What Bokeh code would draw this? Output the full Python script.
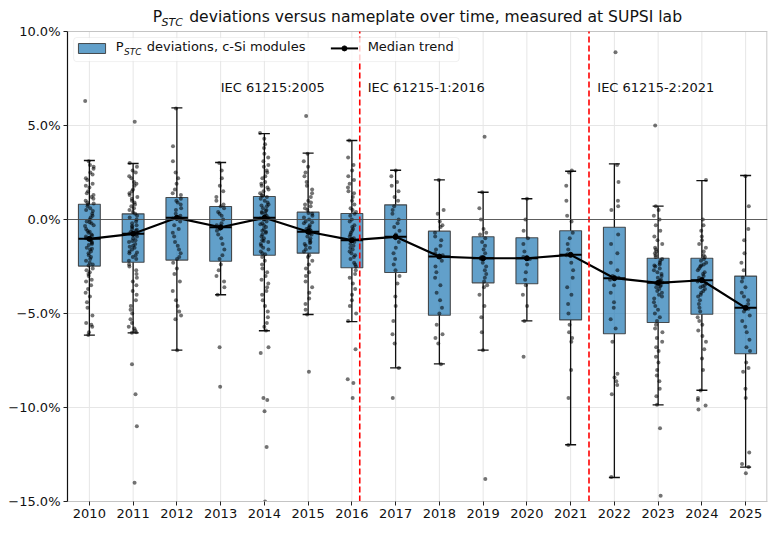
from bokeh.plotting import figure
from bokeh.models import Range1d, FixedTicker, Span, Label, BoxAnnotation, ColumnDataSource
from bokeh.transform import jitter
from bokeh.embed import file_html
from bokeh.resources import INLINE

# ---------------- data ----------------
years = list(range(2010, 2026))
q1 = [-2.48, -2.27, -2.16, -2.22, -1.90, -1.79, -2.57, -2.82, -5.09, -3.37, -3.42, -5.34, -6.08, -5.48, -5.04, -7.14]
med = [-1.03, -0.76, 0.09, -0.41, 0.09, -0.65, -1.10, -0.92, -1.97, -2.06, -2.06, -1.88, -3.12, -3.37, -3.23, -4.70]
q3 = [0.81, 0.30, 1.17, 0.69, 1.22, 0.39, 0.32, 0.78, -0.62, -0.92, -0.97, -0.60, -0.41, -2.06, -2.06, -3.01]
whisk_lo = [-6.15, -6.03, -6.95, -4.00, -5.92, -5.05, -5.43, -7.89, -7.68, -6.95, -5.39, -11.98, -13.72, -9.86, -9.08, -13.17]
whisk_hi = [3.14, 2.98, 5.94, 3.03, 4.57, 3.53, 4.20, 2.62, 2.11, 1.45, 1.10, 2.57, 2.96, 0.71, 2.07, 2.34]

pts_2010 = [6.3, 3.1, 2.9, 2.8, 2.7, 2.5, 2.4, 2.2, 2.1, 1.9, 1.8, 1.7, 1.5, 1.4, 1.3, 1.2, 1.1, 1.0, 0.9, 0.85,
            0.8, 0.7, 0.6, 0.5, 0.45, 0.3, 0.2, 0.1, 0.0, -0.1, -0.2, -0.3, -0.35, -0.5, -0.6, -0.7, -0.8, -0.85,
            -0.9, -1.0, -1.0, -1.1, -1.2, -1.3, -1.35, -1.5, -1.6, -1.7, -1.8, -1.9, -2.0, -2.1, -2.2, -2.3, -2.4,
            -2.45, -1.25, -0.65, -1.55, -0.15, -2.6, -2.7, -2.8, -2.9, -3.0, -3.2, -3.3, -3.5, -3.7, -3.9, -4.1,
            -4.4, -4.7, -5.1, -5.5, -5.6, -5.7, -6.0, -6.15]
pts_2011 = [5.2, 3.0, 2.8, 2.6, 2.5, 2.3, 2.2, 2.0, 1.9, 1.8, 1.6, 1.5, 1.4, 1.3, 1.2, 1.1, 1.0, 0.9, 0.8, 0.7,
            0.6, 0.5, 0.4, 0.3, 0.2, 0.1, 0.0, -0.1, -0.2, -0.3, -0.4, -0.5, -0.55, -0.6, -0.7, -0.75, -0.8, -0.9,
            -1.0, -1.1, -1.2, -1.3, -1.4, -1.5, -1.6, -1.7, -1.8, -1.9, -2.0, -2.1, -2.2, -0.65, -1.15, -1.45,
            -0.35, -1.75, -2.4, -2.5, -2.7, -2.9, -3.1, -3.3, -3.5, -3.8, -4.0, -4.3, -4.6, -4.8, -5.0, -5.3,
            -5.5, -5.7, -5.8, -5.9, -6.0, -6.03, -7.7, -9.3, -11.0, -14.0]
pts_2012 = [5.9, 3.9, 3.1, 2.5, 2.2, 1.9, 1.6, 1.4, 1.3, 1.1, 1.0, 0.9, 0.8, 0.6, 0.5, 0.3, 0.2, 0.1, 0.05,
            -0.1, -0.3, -0.5, -0.7, -0.9, -1.2, -1.4, -1.6, -1.8, -2.0, -2.1, -2.3, -2.6, -2.9, -3.3, -3.8,
            -4.3, -4.6, -4.9, -5.1, -5.3, -6.95]
pts_2013 = [3.0, 2.6, 2.2, 1.8, 1.5, 1.2, 1.0, 0.8, 0.7, 0.6, 0.4, 0.3, 0.2, 0.0, -0.2, -0.3, -0.4, -0.5, -0.6,
            -0.8, -1.0, -1.3, -1.6, -1.9, -2.1, -2.4, -2.7, -3.0, -3.3, -3.6, -4.0, -6.8, -8.9]
pts_2014 = [4.6, 4.3, 4.0, 3.8, 3.5, 3.3, 3.1, 2.9, 2.8, 2.6, 2.5, 2.3, 2.2, 2.0, 1.9, 1.8, 1.7, 1.6, 1.5, 1.4,
            1.3, 1.25, 1.2, 1.1, 1.0, 0.9, 0.8, 0.7, 0.6, 0.5, 0.45, 0.4, 0.3, 0.2, 0.15, 0.1, 0.05, 0.0, -0.1,
            -0.2, -0.3, -0.4, -0.5, -0.6, -0.7, -0.8, -0.9, -1.0, -1.1, -1.2, -1.3, -1.4, -1.5, -1.6, -1.7,
            -1.8, -1.85, -0.25, 0.35, 0.75, -0.65, -1.15, -2.0, -2.2, -2.4, -2.6, -2.8, -3.0, -3.2, -3.4, -3.6,
            -3.8, -4.0, -4.3, -4.6, -4.9, -5.2, -5.5, -5.7, -5.9, -6.8, -7.1, -9.5, -9.6, -10.2, -12.1, -15.0]
pts_2015 = [5.5, 3.5, 3.1, 2.8, 2.5, 2.3, 2.0, 1.8, 1.6, 1.4, 1.2, 1.0, 0.9, 0.8, 0.7, 0.6, 0.5, 0.35, 0.3, 0.2,
            0.1, 0.0, -0.1, -0.2, -0.3, -0.4, -0.5, -0.55, -0.6, -0.7, -0.8, -0.9, -1.0, -1.1, -1.2, -1.3, -1.4,
            -1.5, -1.6, -1.7, -0.45, -0.75, -0.15, -1.25, -1.9, -2.0, -2.2, -2.4, -2.6, -2.8, -3.0, -3.3, -3.6,
            -3.9, -4.2, -4.5, -4.8, -5.05, -8.1]
pts_2016 = [4.2, 3.3, 2.9, 2.6, 2.3, 2.1, 1.9, 1.7, 1.5, 1.4, 1.2, 1.0, 0.8, 0.6, 0.5, 0.4, 0.3, 0.2, 0.0, -0.1,
            -0.3, -0.4, -0.6, -0.7, -0.8, -0.9, -1.0, -1.1, -1.15, -1.2, -1.3, -1.4, -1.5, -1.7, -1.8, -1.9,
            -2.0, -2.1, -2.3, -2.4, -2.5, -1.6, -0.5, -2.7, -2.9, -3.1, -3.4, -3.7, -4.0, -4.3, -4.6, -5.0,
            -5.4, -6.9, -8.5, -8.7, -9.5]
pts_2017 = [2.6, 2.3, 2.0, 1.8, 1.5, 1.2, 1.0, 0.7, 0.5, 0.3, 0.0, -0.2, -0.4, -0.6, -0.8, -0.9, -1.0, -1.2,
            -1.5, -1.8, -2.1, -2.4, -2.7, -3.0, -3.4, -4.1, -4.6, -5.4, -6.1, -6.6, -7.9, -9.5]
pts_2018 = [2.1, 0.5, 0.3, -0.1, -0.3, -0.4, -0.7, -0.9, -1.1, -1.4, -1.6, -1.8, -1.9, -2.0, -2.2, -2.5, -2.8,
            -3.1, -3.5, -3.9, -4.3, -4.7, -5.0, -5.6, -6.1, -6.3, -6.6, -7.7]
pts_2019 = [4.4, 1.45, 0.6, 0.0, -0.5, -0.7, -0.8, -1.0, -1.2, -1.4, -1.6, -1.8, -2.0, -2.05, -2.1, -2.3, -2.5,
            -2.7, -2.9, -3.1, -3.3, -3.5, -3.6, -4.0, -4.6, -5.2, -6.0, -6.95, -13.8]
pts_2020 = [1.1, 0.0, -0.6, -1.0, -1.3, -1.7, -2.0, -2.1, -2.4, -2.8, -3.2, -3.5, -4.0, -4.6, -5.4, -7.3]
pts_2021 = [2.6, 2.5, 1.8, 1.0, 0.2, -0.1, -0.7, -1.0, -1.3, -1.6, -1.85, -1.9, -2.3, -2.7, -3.1, -3.6, -4.0,
            -4.5, -5.0, -5.6, -6.0, -6.3, -6.5, -8.0, -9.5, -12.0]
pts_2022 = [8.9, 2.9, 2.0, 1.0, 0.7, 0.5, -0.8, -1.3, -1.8, -2.3, -2.7, -3.0, -3.1, -3.2, -3.5, -3.9, -4.4,
            -4.7, -5.3, -5.8, -6.5, -8.2, -8.4, -8.6, -8.8, -9.3, -13.7]
pts_2023 = [5.0, 0.7, 0.5, 0.2, 0.0, -0.3, -0.6, -0.9, -1.1, -1.3, -1.5, -1.6, -1.7, -1.8, -1.9, -2.0, -2.1,
            -2.2, -2.3, -2.4, -2.5, -2.6, -2.7, -2.8, -2.9, -3.0, -3.1, -3.2, -3.3, -3.35, -3.4, -3.5, -3.6,
            -3.7, -3.8, -3.9, -4.0, -4.2, -4.4, -4.6, -4.8, -5.0, -5.2, -5.4, -2.45, -3.25, -3.55, -4.1, -5.6,
            -5.8, -6.0, -6.3, -6.5, -6.8, -7.0, -7.3, -7.6, -8.0, -8.3, -8.6, -9.0, -9.4, -9.86, -11.1, -14.7]
pts_2024 = [2.1, 0.0, -0.3, -0.6, -0.9, -1.1, -1.3, -1.5, -1.7, -1.9, -2.0, -2.1, -2.2, -2.3, -2.4, -2.5, -2.6,
            -2.7, -2.8, -2.9, -3.0, -3.1, -3.2, -3.25, -3.3, -3.4, -3.5, -3.6, -3.7, -3.8, -3.9, -4.0, -4.1,
            -4.3, -4.5, -4.7, -4.9, -2.45, -3.15, -3.55, -5.2, -5.4, -5.6, -5.9, -6.2, -6.5, -6.9, -7.4, -8.0,
            -9.1, -9.5, -9.6, -9.9, -10.1]
pts_2025 = [2.3, 0.7, -0.5, -1.1, -1.8, -2.3, -2.7, -3.1, -3.3, -3.6, -3.9, -4.1, -4.3, -4.5, -4.7, -4.75, -4.9,
            -5.1, -5.4, -5.7, -6.0, -6.4, -6.8, -7.0, -7.6, -7.9, -8.1, -9.0, -9.5, -12.4, -13.0, -13.17, -13.5]

standard_names = ["IEC 61215:2005", "IEC 61215-1:2016", "IEC 61215-2:2021"]
standard_changes = [2016.18, 2021.42]

y_ticks = [-15, -10, -5, 0, 5, 10]
y_tick_labels = ["\u221215.0%", "\u221210.0%", "\u22125.0%", "0.0%", "5.0%", "10.0%"]

title_main = "deviations versus nameplate over time, measured at SUPSI lab"
legend_box = "deviations, c-Si modules"
legend_line = "Median trend"

all_pts = [pts_2010, pts_2011, pts_2012, pts_2013, pts_2014, pts_2015, pts_2016, pts_2017,
           pts_2018, pts_2019, pts_2020, pts_2021, pts_2022, pts_2023, pts_2024, pts_2025]

# ---------------- figure ----------------
# The frame is extended upward so that the (sub-scripted) title can be drawn as in-frame labels;
# the visible axes box is drawn for the value range y_min..y_max only.
FONT = "DejaVu Sans"
x_min, x_max = 2009.5, 2025.5
y_min, y_max = y_ticks[0], y_ticks[-1]
px_per_unit = 470 / (y_max - y_min)
y_top = y_max + 31 / px_per_unit

p = figure(frame_width=700, frame_height=501,
           x_range=Range1d(x_min, x_max), y_range=Range1d(y_min, y_top),
           output_backend="svg", toolbar_location=None,
           min_border_left=67, min_border_right=3, min_border_top=0, min_border_bottom=31,
           background_fill_color="white", border_fill_color="white")
p.outline_line_color = None

p.xaxis.ticker = FixedTicker(ticks=years)
p.yaxis.ticker = FixedTicker(ticks=y_ticks)
p.yaxis.major_label_overrides = dict(zip(y_ticks, y_tick_labels))
p.yaxis.bounds = (y_min, y_max)
p.axis.major_label_text_font = FONT
p.axis.major_label_text_font_size = "13px"
p.axis.major_label_text_color = "#111111"
p.axis.major_tick_in = 0
p.axis.major_tick_out = 4
p.axis.minor_tick_out = 0
p.axis.minor_tick_in = 0
p.axis.major_tick_line_color = "#222222"
p.xaxis.major_label_standoff = 3
p.yaxis.major_label_standoff = 3
p.xaxis.axis_line_color = "#c4c4c4"
p.xaxis.axis_line_width = 1.2
p.yaxis.axis_line_color = "#111111"
p.yaxis.axis_line_width = 1.2
p.xgrid.grid_line_color = None
p.ygrid.grid_line_color = "#e6e6e6"

GRID = "#e6e6e6"
# vertical grid lines limited to the axes box
p.segment(x0=years, y0=[y_min] * len(years), x1=years, y1=[y_max] * len(years),
          line_color=GRID, line_width=1)
# top and right edges of the axes box
p.segment(x0=[x_min], y0=[y_max], x1=[x_max], y1=[y_max], line_color="#c4c4c4", line_width=1.2)
p.segment(x0=[x_max - 0.012], y0=[y_min], x1=[x_max - 0.012], y1=[y_max], line_color="#c4c4c4",
          line_width=1.2)

# whiskers
p.segment(x0=years, y0=whisk_lo, x1=years, y1=q1, line_color="#111111", line_width=1.3)
p.segment(x0=years, y0=q3, x1=years, y1=whisk_hi, line_color="#111111", line_width=1.3)
p.scatter(x=years, y=whisk_lo, marker="dash", size=11, line_color="#111111", line_width=1.4)
p.scatter(x=years, y=whisk_hi, marker="dash", size=11, line_color="#111111", line_width=1.4)

# boxes
p.vbar(x=years, width=0.5, bottom=q1, top=q3, fill_color="#1f77b4", fill_alpha=0.7,
       line_color="#333333", line_alpha=0.85, line_width=1.1)
p.scatter(x=years, y=med, marker="dash", size=22, line_color="black", line_width=2)

# individual points
xs, ys = [], []
for yr, vals in zip(years, all_pts):
    xs.extend([yr] * len(vals))
    ys.extend(vals)
src = ColumnDataSource(data=dict(x=xs, y=ys))
p.scatter(x=jitter("x", width=0.2, distribution="uniform"), y="y", source=src,
          size=4, fill_color="black", fill_alpha=0.55, line_color=None)

# median trend
p.line(x=years, y=med, line_color="black", line_width=2.2)
p.scatter(x=years, y=med, size=5, fill_color="black", line_color="black")

# zero line
p.add_layout(Span(location=0, dimension="width", line_color="#444444", line_width=1.2, line_alpha=0.85))

# standard change lines (within the axes box)
p.segment(x0=standard_changes, y0=[y_min] * len(standard_changes), x1=standard_changes,
          y1=[y_max] * len(standard_changes), line_color="red", line_dash="6 3", line_width=1.6)

label_x = [2013.0, 2016.36, 2021.61]
for name, lx in zip(standard_names, label_x):
    p.add_layout(Label(x=lx, y=7.0, text=name, text_font=FONT, text_font_size="13px",
                       text_color="#111111", text_baseline="alphabetic"))

# legend
p.add_layout(BoxAnnotation(left=2009.64, right=2018.45, top=9.68, bottom=8.40,
                           fill_color="white", fill_alpha=0.8, line_color="#cccccc",
                           line_width=1, border_radius=3))
p.add_layout(BoxAnnotation(left=2009.75, right=2010.37, top=9.36, bottom=8.83,
                           fill_color="#1f77b4", fill_alpha=0.7, line_color="#333333",
                           line_alpha=0.85, line_width=1))
p.add_layout(Label(x=2010.60, y=8.81, text="P", text_font=FONT, text_font_size="13px",
                   text_color="#111111"))
p.add_layout(Label(x=2010.79, y=8.66, text="STC", text_font=FONT, text_font_size="9px",
                   text_font_style="italic", text_color="#111111"))
p.add_layout(Label(x=2011.31, y=8.81, text=legend_box, text_font=FONT,
                   text_font_size="13px", text_color="#111111"))
p.line(x=[2015.52, 2016.14], y=[9.10, 9.10], line_color="black", line_width=2, level="overlay")
p.scatter(x=[2015.83], y=[9.10], size=5, fill_color="black", line_color="black", level="overlay")
p.add_layout(Label(x=2016.36, y=8.81, text=legend_line, text_font=FONT, text_font_size="13px",
                   text_color="#111111"))

# title (with subscript)
p.add_layout(Label(x=2011.446, y=10.266, text="P", text_font=FONT,
                   text_font_size="15.6px", text_color="#111111"))
p.add_layout(Label(x=2011.650, y=10.13, text="STC", text_font=FONT,
                   text_font_size="11px", text_font_style="italic", text_color="#111111"))
p.add_layout(Label(x=2012.281, y=10.266, text=title_main,
                   text_font=FONT, text_font_size="15.6px", text_color="#111111"))

open("out.html", "w").write(file_html(p, INLINE))
